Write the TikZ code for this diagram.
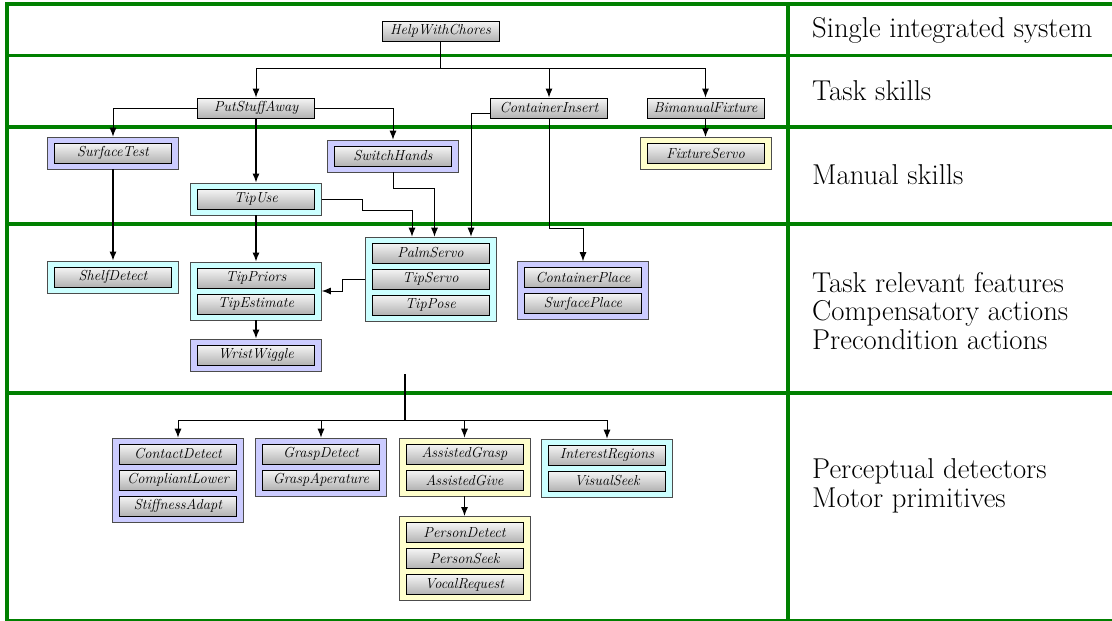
\documentclass[tikz,border=0pt]{standalone}
\usepackage{fontspec}
\usetikzlibrary{shapes,arrows.meta,positioning,fit}
\pgfdeclarelayer{background}
\pgfsetlayers{background,main}
\definecolor{framegreen}{RGB}{0,128,0}
\definecolor{lavender}{RGB}{204,204,255}
\definecolor{palecyan}{RGB}{204,255,255}
\definecolor{paleyellow}{RGB}{255,255,204}
\tikzstyle{skill}=[rectangle, draw, line width=0.8pt, top color=gray!8, bottom color=gray!60, minimum width=117pt, minimum height=20pt, inner sep=0pt, font=\fontsize{14.5}{16}\selectfont\itshape]
\tikzstyle{bluegroup}=[rectangle, draw=black!70, line width=0.8pt, fill=lavender, inner xsep=6.5pt, inner ysep=5.5pt]
\tikzstyle{cyangroup}=[rectangle, draw=black!70, line width=0.8pt, fill=palecyan, inner xsep=6.5pt, inner ysep=5.5pt]
\tikzstyle{yellowgroup}=[rectangle, draw=black!70, line width=0.8pt, fill=paleyellow, inner xsep=6.5pt, inner ysep=5.5pt]
\tikzstyle{tier}=[draw=framegreen, line width=3.5pt]
\tikzstyle{tierlabel}=[anchor=west, align=left, inner sep=0pt, font=\fontsize{28.7}{28.5}\selectfont]
\tikzstyle{conn}=[-{Latex[length=9pt,width=7pt]}, line width=1pt]

\begin{document}
\begin{tikzpicture}[x=1pt,y=-1pt]
\useasboundingbox (0,0) rectangle (1112,621);

% frame
\draw[tier] (7,4) -- (1112,4);
\draw[tier] (7,55.5) -- (1112,55.5);
\draw[tier] (7,127) -- (1112,127);
\draw[tier] (7,224) -- (1112,224);
\draw[tier] (7,393) -- (1112,393);
\draw[tier] (7,2.25) -- (7,620);
\draw[tier] (788,2.25) -- (788,620);
\draw[framegreen, line width=1.2pt] (5.25,620) -- (1112,620);

% skills
\node[skill](hwc) at (440.5,31) {HelpWithChores};
\node[skill](psa) at (256,108) {PutStuffAway};
\node[skill](cin) at (549,108) {ContainerInsert};
\node[skill](bmf) at (705.5,108) {BimanualFixture};
\node[skill](fxs) at (705.5,153.5) {FixtureServo};
\node[skill](sft) at (113,153) {SurfaceTest};
\node[skill](swh) at (393,156) {SwitchHands};
\node[skill](tpu) at (256,199) {TipUse};
\node[skill](shd) at (113,277) {ShelfDetect};
\node[skill](tpr) at (256,278) {TipPriors};
\node[skill, below=5.2pt of tpr](tes) {TipEstimate};
\node[skill](wwg) at (256,355) {WristWiggle};
\node[skill](pls) at (430.5,253) {PalmServo};
\node[skill, below=5.2pt of pls](tsv) {TipServo};
\node[skill, below=5.2pt of tsv](tps) {TipPose};
\node[skill](cpl) at (583,277.5) {ContainerPlace};
\node[skill, below=5.2pt of cpl](spl) {SurfacePlace};
\node[skill](cdt) at (178,454) {ContactDetect};
\node[skill, below=5.2pt of cdt](clw) {CompliantLower};
\node[skill, below=5.2pt of clw](sad) {StiffnessAdapt};
\node[skill](gdt) at (321,454) {GraspDetect};
\node[skill, below=5.2pt of gdt](gap) {GraspAperature};
\node[skill](agr) at (464.5,454) {AssistedGrasp};
\node[skill, below=5.2pt of agr](agv) {AssistedGive};
\node[skill](pdt) at (464.5,532.5) {PersonDetect};
\node[skill, below=5.2pt of pdt](psk) {PersonSeek};
\node[skill, below=5.2pt of psk](vrq) {VocalRequest};
\node[skill](irg) at (607,455) {InterestRegions};
\node[skill, below=5.2pt of irg](vsk) {VisualSeek};

\begin{pgfonlayer}{background}
\node[yellowgroup, fit=(fxs)](gfxs) {};
\node[bluegroup, fit=(sft)](gsft) {};
\node[bluegroup, fit=(swh)](gswh) {};
\node[cyangroup, fit=(tpu)](gtpu) {};
\node[cyangroup, fit=(shd)](gshd) {};
\node[cyangroup, fit=(tpr)(tes)](gtpr) {};
\node[bluegroup, fit=(wwg)](gwwg) {};
\node[cyangroup, fit=(pls)(tps)](gpls) {};
\node[bluegroup, fit=(cpl)(spl)](gcpl) {};
\node[bluegroup, fit=(cdt)(sad)](gcdt) {};
\node[bluegroup, fit=(gdt)(gap)](ggdt) {};
\node[yellowgroup, fit=(agr)(agv)](gagr) {};
\node[yellowgroup, fit=(pdt)(vrq)](gpdt) {};
\node[cyangroup, fit=(irg)(vsk)](girg) {};
\end{pgfonlayer}

% connectors
\coordinate (split1) at (440.5,68);
\draw[line width=1.4pt] (hwc.south) -- (split1);
\draw[conn] (split1) -| (psa.north);
\draw[conn] (split1) -| (cin.north);
\draw[conn] (split1) -| (bmf.north);
\draw[conn] (psa.west) -| (gsft.north);
\draw[conn] (psa.east) -| (gswh.north);
\draw[conn, line width=1.4pt] (psa.south) -- (gtpu.north);
\draw[conn, line width=1.4pt] (bmf.south) -- (gfxs.north);
\draw[conn, line width=1.4pt] (gsft.south) -- (gshd.north);
\draw[conn, line width=1.4pt] (gtpu.south) -- (gtpr.north);
\draw[conn, line width=1.4pt] (gtpr.south) -- (gwwg.north);
\draw[conn] (gtpu.east) -- ++(41,0) -- ++(0,11) -| ([xshift=-18.5pt]gpls.north);
\draw[conn] (gswh.south) -- ++(0,16) -| ([xshift=4pt]gpls.north);
\draw[conn] ([yshift=-5pt]cin.west) -| ([xshift=40.5pt]gpls.north);
\draw[conn] (cin.south) -- ++(0,110) -| (gcpl.north);
\draw[conn] (gpls.west) -- ++(-22,0) |- (gtpr.east);

\coordinate (stem) at (405,374);
\coordinate (split2) at (405,420);
\draw[line width=1.4pt] (stem) -- (split2);
\draw[conn] (split2) -| (gcdt.north);
\draw[conn] (split2) -| (ggdt.north);
\draw[conn] (split2) -| (gagr.north);
\draw[conn] (split2) -| (girg.north);
\draw[conn, line width=1.4pt] (gagr.south) -- (gpdt.north);

% tiers
\node[tierlabel](t1) at (812,30) {Single integrated system};
\node[tierlabel](t2) at (812,91) {Task skills};
\node[tierlabel](t3) at (812,175) {Manual skills};
\node[tierlabel](t4) at (812,311) {Task relevant features\\Compensatory actions\\Precondition actions};
\node[tierlabel](t5) at (812,486) {Perceptual detectors\\Motor primitives};

\end{tikzpicture}
\end{document}
